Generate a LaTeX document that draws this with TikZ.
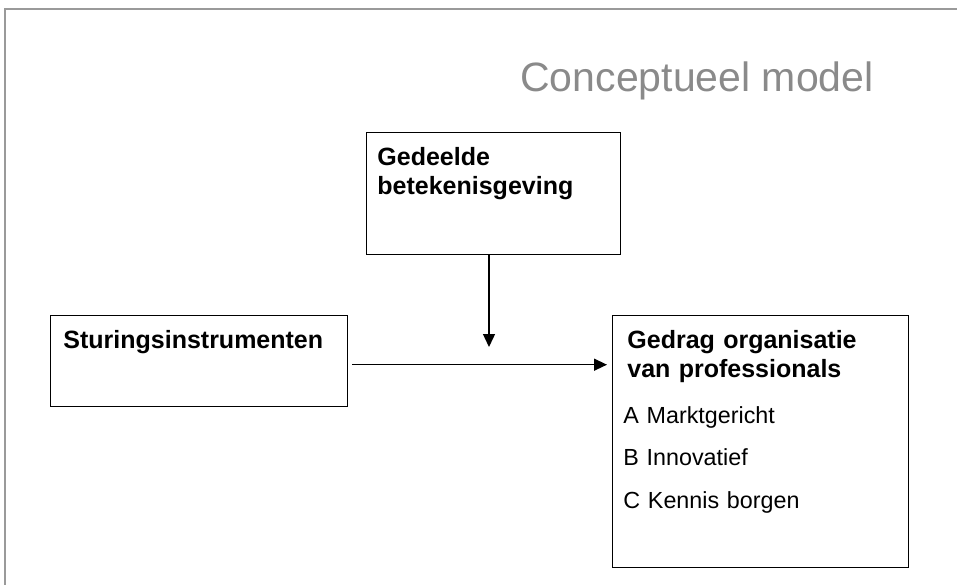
\documentclass[tikz,border=0pt]{standalone}
\usepackage{fontspec}
\setmainfont{Liberation Sans}
\usetikzlibrary{positioning,arrows.meta}

\definecolor{titelgrijs}{HTML}{8A8A8A}
\definecolor{randgrijs}{HTML}{9A9A9A}

\begin{document}
\begin{tikzpicture}[x=1pt,y=-1pt,>={Triangle[length=13pt,width=12pt]},thick]
  \tikzset{
    box/.style={draw,line width=1.4pt,anchor=north west,inner sep=0pt},
    kop/.style={anchor=base west,inner sep=0pt,align=left,text width=260pt,
                font=\bfseries\fontsize{25}{29}\selectfont},
    lijst/.style={anchor=base west,inner sep=0pt,align=left,text width=260pt,
                  font=\fontsize{23.3}{42.5}\selectfont}
  }
  \useasboundingbox (0,0) rectangle (957,585);
  % dia-rand
  \draw[randgrijs,line width=1.5pt] (5,585) -- (5,9) -- (957,9);
  \node[anchor=base east,inner sep=0pt,text=titelgrijs,font=\fontsize{41}{41}\selectfont] (titel) at (874,92) {Conceptueel model};

  % kaders
  \node[box,minimum width=254pt,minimum height=122pt] (betekenis) at (366,132) {};
  \node[box,minimum width=297pt,minimum height=91pt] (sturing) at (50,315) {};
  \node[box,minimum width=296pt,minimum height=252pt] (gedrag) at (612,315) {};

  % teksten
  \node[kop] (betekenistxt) at (377,166) {Gedeelde\\betekenisgeving};
  \node[kop] (sturingtxt) at (63,348) {Sturingsinstrumenten};
  \node[kop] (gedragtxt) at (627,348) {Gedrag organisatie\\van professionals};
  \node[lijst] (uitkomsten) at (623,423) {A Marktgericht\\B Innovatief\\C Kennis borgen};

  % pijlen
  \coordinate (midden) at (489,347);
  \draw[->,line width=1.4pt] (betekenis.south -| midden) -- (midden);
  \draw[->,line width=1.4pt,shorten <=4pt,shorten >=5pt] ([yshift=-3.5pt]sturing.east) -- ([yshift=-3.5pt]sturing.east -| gedrag.west);
\end{tikzpicture}
\end{document}
